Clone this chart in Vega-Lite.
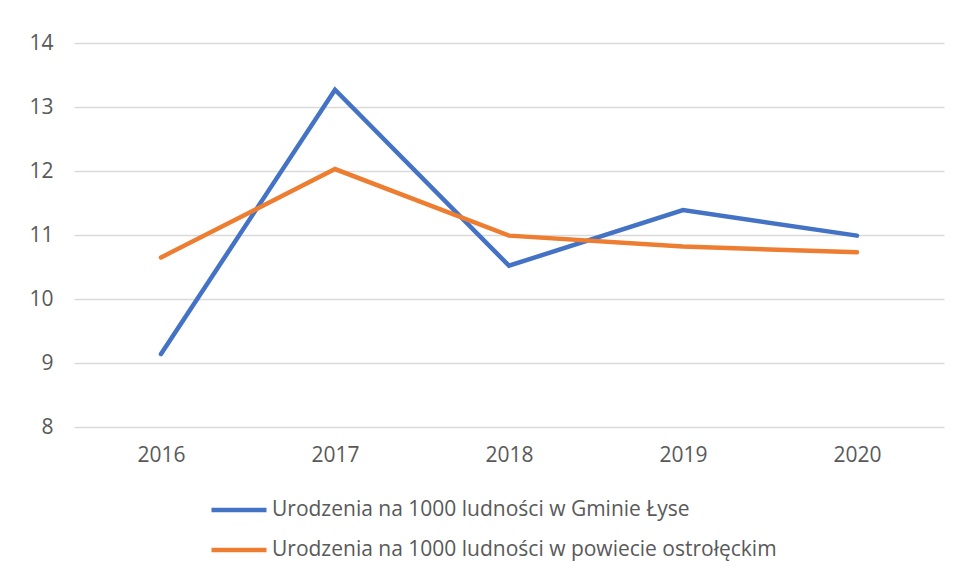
{
  "$schema": "https://vega.github.io/schema/vega-lite/v6.json",
  "autosize": {"type": "none"},
  "width": 870,
  "height": 384,
  "padding": {"left": 74, "top": 43, "right": 13, "bottom": 157},
  "background": "white",
  "config": {
    "view": {"stroke": null},
    "font": "Open Sans"
  },
  "data": {
    "values": [
      {"rok": "2016", "seria": "Urodzenia na 1000 ludności w Gminie Łyse", "wartosc": 9.14},
      {"rok": "2017", "seria": "Urodzenia na 1000 ludności w Gminie Łyse", "wartosc": 13.27},
      {"rok": "2018", "seria": "Urodzenia na 1000 ludności w Gminie Łyse", "wartosc": 10.52},
      {"rok": "2019", "seria": "Urodzenia na 1000 ludności w Gminie Łyse", "wartosc": 11.39},
      {"rok": "2020", "seria": "Urodzenia na 1000 ludności w Gminie Łyse", "wartosc": 10.99},
      {"rok": "2016", "seria": "Urodzenia na 1000 ludności w powiecie ostrołęckim", "wartosc": 10.65},
      {"rok": "2017", "seria": "Urodzenia na 1000 ludności w powiecie ostrołęckim", "wartosc": 12.03},
      {"rok": "2018", "seria": "Urodzenia na 1000 ludności w powiecie ostrołęckim", "wartosc": 10.99},
      {"rok": "2019", "seria": "Urodzenia na 1000 ludności w powiecie ostrołęckim", "wartosc": 10.82},
      {"rok": "2020", "seria": "Urodzenia na 1000 ludności w powiecie ostrołęckim", "wartosc": 10.73}
    ]
  },
  "mark": {"type": "line", "strokeWidth": 4.5, "strokeCap": "round", "strokeJoin": "miter"},
  "encoding": {
    "x": {
      "field": "rok",
      "type": "ordinal",
      "scale": {"type": "point", "padding": 0.5},
      "axis": {
        "title": null,
        "labelAngle": 0,
        "labelFontSize": 21,
        "labelColor": "#595959",
        "labelPadding": 17,
        "ticks": false,
        "domain": false,
        "grid": false
      }
    },
    "y": {
      "field": "wartosc",
      "type": "quantitative",
      "scale": {"domain": [8, 14], "nice": false, "zero": false},
      "axis": {
        "title": null,
        "values": [8, 9, 10, 11, 12, 13, 14],
        "labelFontSize": 21,
        "labelColor": "#595959",
        "labelPadding": 21,
        "ticks": false,
        "domain": false,
        "grid": true,
        "gridColor": "#d9d9d9",
        "gridWidth": 1.5
      }
    },
    "color": {
      "field": "seria",
      "type": "nominal",
      "scale": {
        "domain": ["Urodzenia na 1000 ludności w Gminie Łyse", "Urodzenia na 1000 ludności w powiecie ostrołęckim"],
        "range": ["#4472C4", "#ED7D31"]
      },
      "legend": {
        "title": null,
        "orient": "none",
        "legendX": 135,
        "legendY": 437,
        "symbolType": "stroke",
        "symbolSize": 3025,
        "symbolStrokeWidth": 4.5,
        "labelFontSize": 21,
        "labelColor": "#595959",
        "labelOffset": 3,
        "rowPadding": -10,
        "labelLimit": 700
      }
    }
  }
}
